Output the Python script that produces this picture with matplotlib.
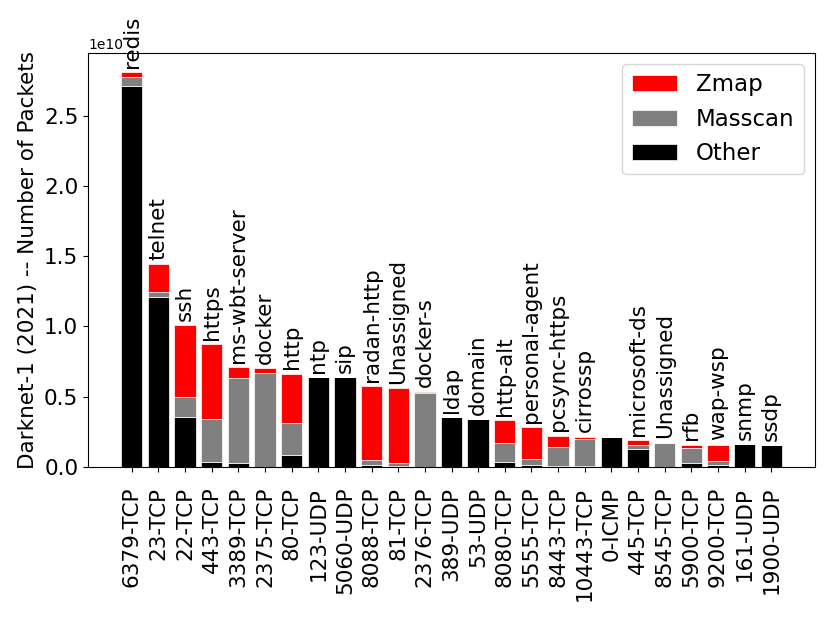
import matplotlib
matplotlib.use("Agg")
import matplotlib.pyplot as plt
import numpy as np

ports = ["6379-TCP", "23-TCP", "22-TCP", "443-TCP", "3389-TCP", "2375-TCP", "80-TCP",
         "123-UDP", "5060-UDP", "8088-TCP", "81-TCP", "2376-TCP", "389-UDP", "53-UDP",
         "8080-TCP", "5555-TCP", "8443-TCP", "10443-TCP", "0-ICMP", "445-TCP",
         "8545-TCP", "5900-TCP", "9200-TCP", "161-UDP", "1900-UDP"]
services = ["redis", "telnet", "ssh", "https", "ms-wbt-server", "docker", "http",
            "ntp", "sip", "radan-http", "Unassigned", "docker-s", "ldap", "domain",
            "http-alt", "personal-agent", "pcsync-https", "cirrossp", "", "microsoft-ds",
            "Unassigned", "rfb", "wap-wsp", "snmp", "ssdp"]
# values in units of 1e9 packets
other = [27.10, 12.06, 3.55, 0.36, 0.24, 0.00, 0.84, 6.38, 6.36, 0.12, 0.05, 0.00,
         3.53, 3.38, 0.31, 0.12, 0.07, 0.07, 2.10, 1.24, 0.00, 0.29, 0.12, 1.60, 1.55]
masscan = [0.65, 0.36, 1.42, 3.04, 6.11, 6.67, 2.30, 0.00, 0.00, 0.36, 0.19, 5.24,
           0.00, 0.00, 1.36, 0.41, 1.36, 1.93, 0.00, 0.33, 1.69, 1.04, 0.29, 0.00, 0.00]
zmap = [0.35, 2.03, 5.14, 5.36, 0.74, 0.35, 3.50, 0.00, 0.00, 5.28, 5.36, 0.11,
        0.00, 0.00, 1.66, 2.28, 0.78, 0.14, 0.00, 0.34, 0.02, 0.24, 1.16, 0.00, 0.00]

scale = 1e9
o = np.array(other) * scale
m = np.array(masscan) * scale
z = np.array(zmap) * scale
x = np.arange(len(ports))

fig = plt.figure(figsize=(8.3, 6.23), dpi=100)
ax = fig.add_axes([88/830, 1 - 466.7/623, (815-88)/830, (466.7-52.7)/623])

fs = 15.5
b_o = ax.bar(x, o, color="black", edgecolor="white", linewidth=0.5, label="Other")
b_m = ax.bar(x, m, bottom=o, color="grey", edgecolor="white", linewidth=0.5, label="Masscan")
b_z = ax.bar(x, z, bottom=o + m, color="red", edgecolor="white", linewidth=0.5, label="Zmap")

tot = o + m + z
for xi, t, s in zip(x, tot, services):
    if s:
        ax.text(xi, t + 0.3e9, s, rotation=90, ha="center", va="bottom", fontsize=fs)

ax.set_xticks(x)
ax.set_xticklabels(ports, rotation=90, fontsize=fs)
ax.tick_params(axis="x", pad=10.9)
ax.tick_params(axis="y", labelsize=fs)
ax.set_ylabel("Darknet-1 (2021) -- Number of Packets", fontsize=fs)
ax.legend([b_z, b_m, b_o], ["Zmap", "Masscan", "Other"], loc="upper right", fontsize=16.5)

fig.savefig("out.png", dpi=100)
